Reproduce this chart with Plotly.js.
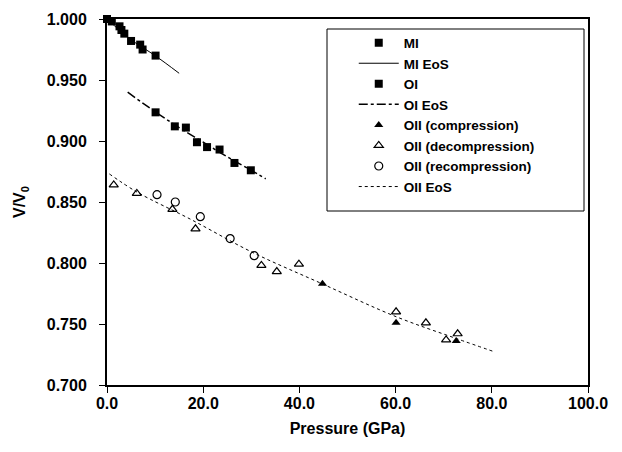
<!DOCTYPE html>
<html>
<head>
<meta charset="utf-8">
<script src="https://cdn.plot.ly/plotly-3.0.1.min.js"></script>
<style>html,body{margin:0;padding:0;background:#fff}#chart{width:622px;height:452px}</style>
</head>
<body>
<div id="chart"></div>
<script>
// MI phase
const MI_P = [0.0, 1.0, 2.6, 3.0, 3.6, 5.0, 6.9, 7.4, 10.1];
const MI_V = [1.000, 0.998, 0.994, 0.991, 0.988, 0.982, 0.979, 0.975, 0.970];
const MI_EOS_P = [0, 5, 10, 15];
const MI_EOS_V = [1.000, 0.983, 0.970, 0.9555];
// OI phase
const OI_P = [10.1, 14.1, 16.4, 18.7, 20.8, 23.4, 26.5, 29.9];
const OI_V = [0.9235, 0.912, 0.911, 0.899, 0.895, 0.893, 0.882, 0.876];
const OI_EOS_P = [4.3, 10, 15, 20, 25, 30, 33];
const OI_EOS_V = [0.940, 0.924, 0.911, 0.899, 0.887, 0.876, 0.869];
// OII phase
const OII_COMP_P = [44.8, 60.1, 72.6];
const OII_COMP_V = [0.783, 0.751, 0.736];
const OII_DECOMP_P = [1.4, 6.2, 13.6, 18.4, 32.1, 35.3, 39.9, 60.1, 66.3, 70.5, 72.9];
const OII_DECOMP_V = [0.864, 0.857, 0.844, 0.828, 0.798, 0.793, 0.799, 0.760, 0.751, 0.737, 0.742];
const OII_RECOMP_P = [10.4, 14.2, 19.4, 25.6, 30.6];
const OII_RECOMP_V = [0.856, 0.850, 0.838, 0.820, 0.806];
const OII_EOS_P = [0.5, 6.3, 17.3, 30.1, 44.7, 60.1, 72.7, 80.7];
const OII_EOS_V = [0.873, 0.858, 0.836, 0.809, 0.783, 0.756, 0.738, 0.727];

const FONT = 'Liberation Sans, Arial, sans-serif';
const traces = [
  {name:'MI', x:MI_P, y:MI_V, mode:'markers', type:'scatter',
   marker:{symbol:'square', size:8, color:'#000'}, cliponaxis:false},
  {name:'MI EoS', x:MI_EOS_P, y:MI_EOS_V, mode:'lines', type:'scatter',
   line:{color:'#000', width:1, shape:'spline'}},
  {name:'OI', x:OI_P, y:OI_V, mode:'markers', type:'scatter',
   marker:{symbol:'square', size:8, color:'#000'}},
  {name:'OI EoS', x:OI_EOS_P, y:OI_EOS_V, mode:'lines', type:'scatter',
   line:{color:'#000', width:1.5, dash:'dashdot', shape:'spline'}},
  {name:'OII (compression)', x:OII_COMP_P, y:OII_COMP_V, mode:'markers', type:'scatter',
   marker:{symbol:'triangle-up', size:8, color:'#000'}},
  {name:'OII (decompression)', x:OII_DECOMP_P, y:OII_DECOMP_V, mode:'markers', type:'scatter',
   marker:{symbol:'triangle-up-open', size:8, color:'#000', line:{width:1.2}}},
  {name:'OII (recompression)', x:OII_RECOMP_P, y:OII_RECOMP_V, mode:'markers', type:'scatter',
   marker:{symbol:'circle-open', size:8, color:'#000', line:{width:1.2}}},
  {name:'OII EoS', x:OII_EOS_P, y:OII_EOS_V, mode:'lines', type:'scatter',
   line:{color:'#000', width:1, dash:'dot', shape:'spline'}}
];

const layout = {
  width:622, height:452,
  margin:{l:107, r:34, t:19, b:67},
  paper_bgcolor:'#fff', plot_bgcolor:'#fff',
  font:{family:FONT, color:'#000', size:16, weight:'bold'},
  showlegend:true,
  legend:{x:0.513, y:0.977, xanchor:'left', yanchor:'top',
    bgcolor:'rgba(0,0,0,0)', borderwidth:0,
    font:{family:FONT, size:13.5, weight:'bold', color:'#000'},
    itemwidth:40, tracegroupgap:0},
  xaxis:{range:[0,100], tickvals:[0,20,40,60,80,100], tickformat:'.1f',
    showgrid:false, zeroline:false, showline:true, linecolor:'#000', linewidth:2,
    mirror:true, ticks:'outside', ticklen:6, tickwidth:1, tickcolor:'#000',
    ticklabelstandoff:-3,
    tickfont:{family:FONT, size:16, weight:'bold'},
    title:{text:'Pressure (GPa)', font:{family:FONT, size:16, weight:'bold'}, standoff:12}},
  yaxis:{range:[0.7,1.0], tickvals:[0.70,0.75,0.80,0.85,0.90,0.95,1.00], tickformat:'.3f',
    showgrid:false, zeroline:false, showline:true, linecolor:'#000', linewidth:2,
    mirror:true, ticks:'outside', ticklen:6, tickwidth:1, tickcolor:'#000',
    ticklabelstandoff:9,
    tickfont:{family:FONT, size:16, weight:'bold'},
    title:{text:'V/V<sub>0</sub>', font:{family:FONT, size:16, weight:'bold'}, standoff:17}},
  shapes:[{type:'rect', xref:'paper', yref:'paper',
    x0:(327-107)/481, x1:(584-107)/481, y0:1-(211-19)/366, y1:1-(29-19)/366,
    line:{color:'#000', width:1}, fillcolor:'rgba(0,0,0,0)', layer:'above'}]
};

Plotly.newPlot('chart', traces, layout, {displayModeBar:false, staticPlot:true});
</script>
</body>
</html>
